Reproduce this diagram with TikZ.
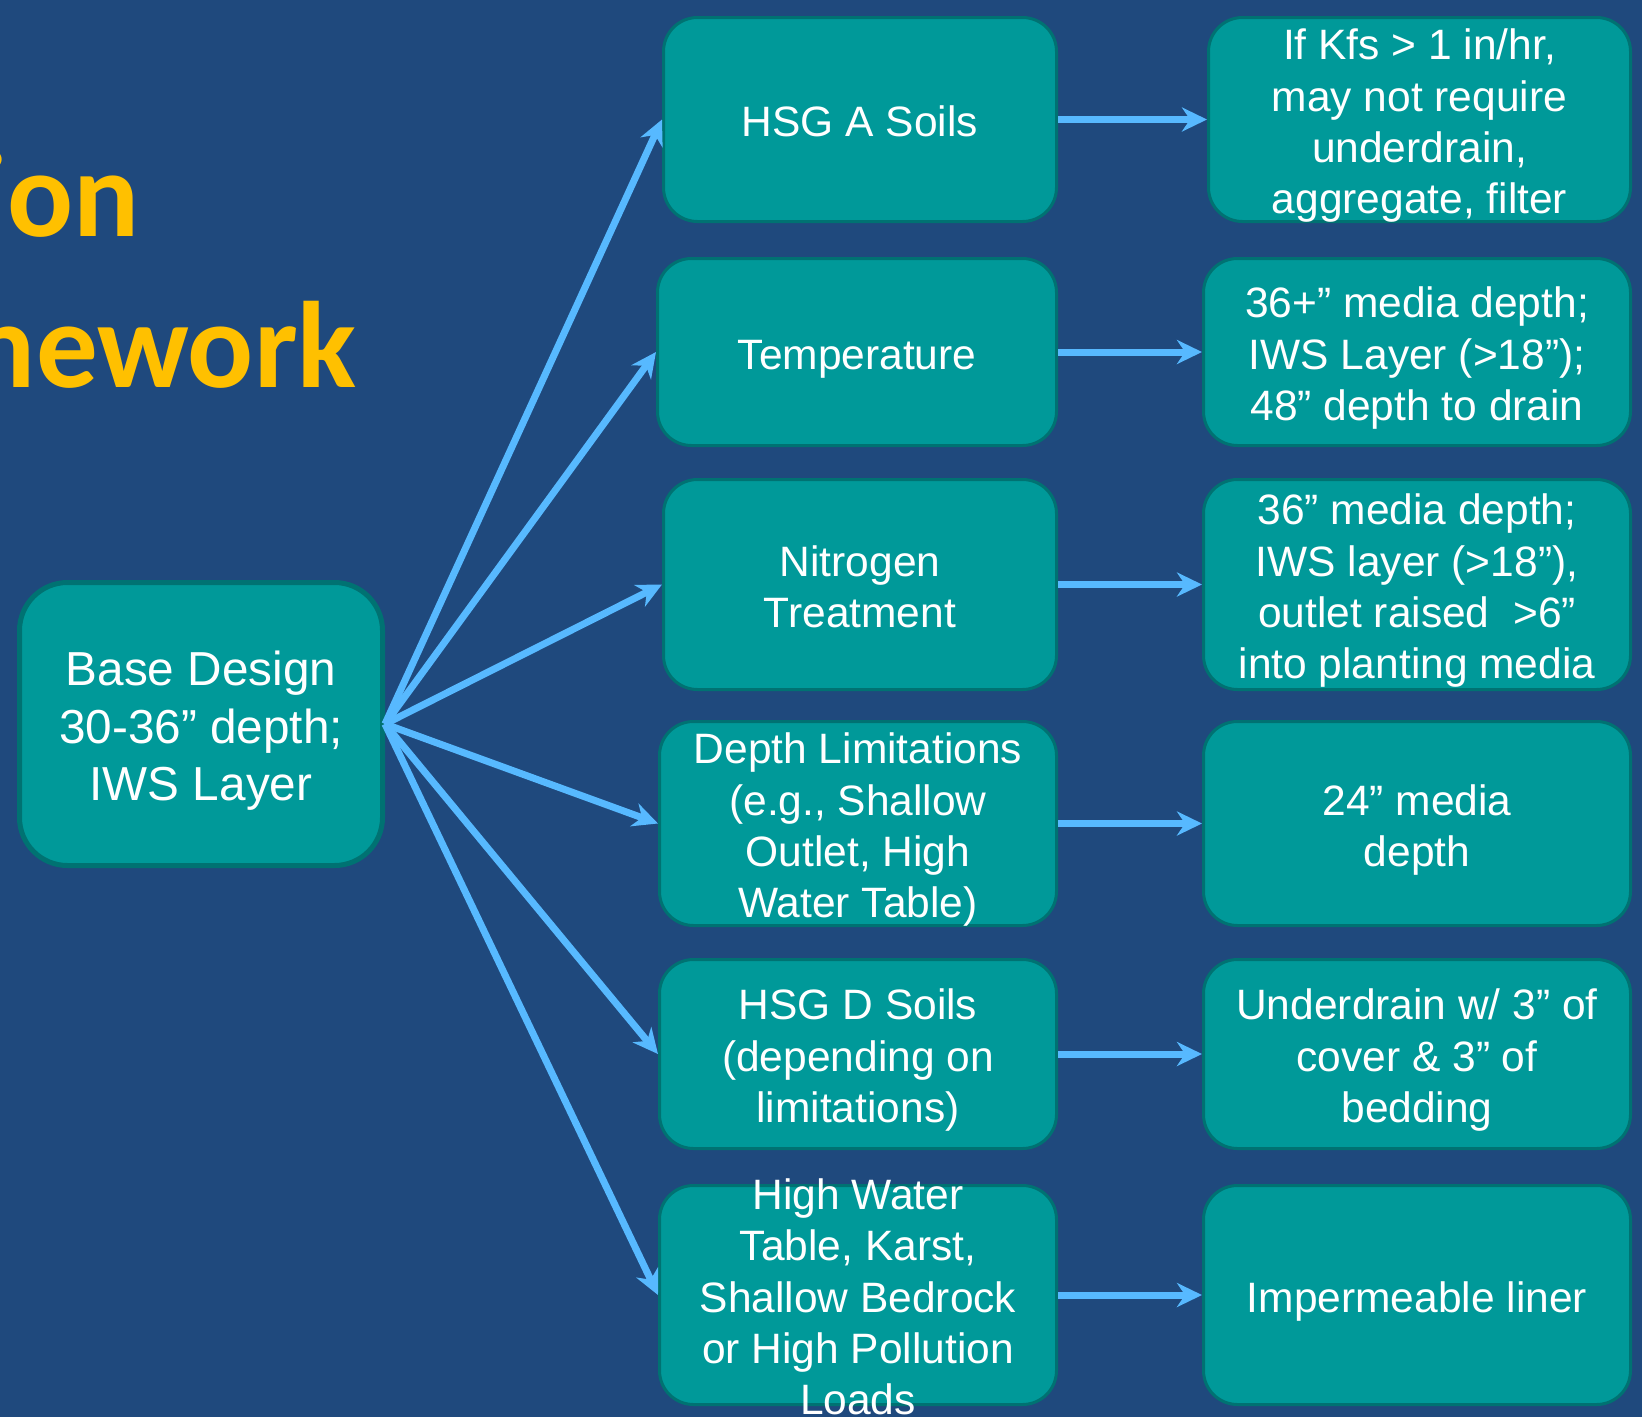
\documentclass[tikz,border=0pt]{standalone}
\usepackage{fontspec}
\setmainfont{Liberation Sans}
\newfontfamily\headfont{Carlito}
\usetikzlibrary{arrows.meta}

\definecolor{slideblue}{HTML}{1F497D}
\definecolor{boxteal}{HTML}{009999}
\definecolor{boxedge}{HTML}{007272}
\definecolor{arrowblue}{HTML}{57B9FF}
\definecolor{headgold}{HTML}{FFC000}

\tikzset{
  headline/.style={font=\headfont\bfseries\fontsize{123}{140}\selectfont, text=headgold, inner sep=0pt, anchor=base east},
  % same line box for every text: tall first line, short last line
  lines/.style={execute at begin node=\rule{0pt}{1.2em}, execute at end node=\rule[-0.39em]{0pt}{0pt}},
  basebox/.style={draw=boxedge, line width=5pt, fill=boxteal, rounded corners=48pt, text=white, align=flush center,
    text width=355pt, font=\fontsize{47.7}{57.6}\selectfont, lines, inner sep=0pt,
    minimum width=363pt, minimum height=283pt},
  optbox/.style={draw=boxedge, line width=3pt, fill=boxteal, rounded corners=34pt, text=white, align=flush center,
    text width=390pt, font=\fontsize{42.5}{51.3}\selectfont, lines, inner xsep=0pt, inner ysep=-20pt},
  fan/.style={draw=arrowblue, line width=7pt, -{Stealth[length=25pt, width=24pt, inset=8pt]}},
}

\begin{document}
\begin{tikzpicture}[x=1pt, y=-1pt]
  \useasboundingbox (0,0) rectangle (1642,1417);
  \clip (0,0) rectangle (1642,1417);
  \fill[slideblue] (0,0) rectangle (1642,1417);

  % heading, cut at the left edge
  \node[headline] (headA) at (140,236) {ion};
  \node[headline] (headB) at (357,387) {nework};

  % starting point
  \node[basebox] (base) at (201,724) {Base Design\\30-36” depth;\\IWS Layer};

  % site conditions
  \node[optbox, minimum width=393pt, minimum height=204pt] (hsga) at (860,119.5) {HSG A Soils};
  \node[optbox, minimum width=399pt, minimum height=187pt] (temp) at (857,352) {Temperature};
  \node[optbox, minimum width=393pt, minimum height=210pt] (nitro) at (860,584.5) {Nitrogen\\Treatment};
  \node[optbox, minimum width=397pt, minimum height=204pt] (depth) at (858,823.5) {Depth Limitations\\(e.g., Shallow\\Outlet, High\\Water Table)};
  \node[optbox, minimum width=397pt, minimum height=189pt] (hsgd) at (858,1054) {HSG D Soils\\(depending on\\limitations)};
  \node[optbox, minimum width=397pt, minimum height=219pt, inner ysep=-27pt] (water) at (858,1295) {High Water\\Table, Karst,\\Shallow Bedrock\\or High Pollution\\Loads};

  % design changes
  \node[optbox, minimum width=422pt, minimum height=204pt] (kfs) at (1419.5,119.5) {If Kfs > 1 in/hr,\\may not require\\underdrain,\\aggregate, filter};
  \node[optbox, minimum width=427pt, minimum height=187pt] (deep) at (1417,352) {36+” media depth;\\IWS Layer (>18”);\\48” depth to drain};
  \node[optbox, minimum width=427pt, minimum height=210pt] (iws) at (1417,584.5) {36” media depth;\\IWS layer (>18”),\\outlet raised\ \ >6”\\into planting media};
  \node[optbox, minimum width=427pt, minimum height=204pt] (shallow) at (1417,823.5) {24” media\\depth};
  \node[optbox, minimum width=427pt, minimum height=189pt] (cover) at (1417,1054) {Underdrain w/ 3” of\\cover \& 3” of\\bedding};
  \node[optbox, minimum width=427pt, minimum height=219pt] (liner) at (1417,1295) {Impermeable liner};

  % fan out from the base design
  \draw[fan] (base.east) -- (hsga.west);
  \draw[fan] (base.east) -- (temp.west);
  \draw[fan] (base.east) -- (nitro.west);
  \draw[fan] (base.east) -- (depth.west);
  \draw[fan] (base.east) -- (hsgd.west);
  \draw[fan] (base.east) -- (water.west);

  % condition to change
  \draw[fan] (hsga) -- (kfs);
  \draw[fan] (temp) -- (deep);
  \draw[fan] (nitro) -- (iws);
  \draw[fan] (depth) -- (shallow);
  \draw[fan] (hsgd) -- (cover);
  \draw[fan] (water) -- (liner);
\end{tikzpicture}
\end{document}
